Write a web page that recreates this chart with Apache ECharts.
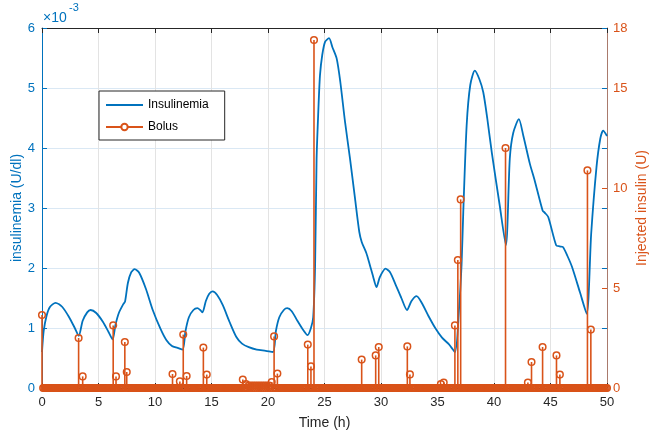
<!DOCTYPE html>
<html><head><meta charset="utf-8">
<script src="https://cdn.jsdelivr.net/npm/echarts@6/dist/echarts.min.js"></script>
<style>html,body{margin:0;padding:0;background:#fff}#c{width:652px;height:436px}</style>
</head><body><div id="c"></div>
<script>
// Insulinemia curve (values in units of 1e-3 U/dl)
const insulinTimes = [0.0,0.15,0.4,0.7,1.2,1.8,2.4,2.9,3.25,3.6,4.0,4.3,4.8,5.4,5.9,6.25,6.5,6.8,7.2,7.35,7.6,7.9,8.2,8.6,9.2,9.8,10.5,11.0,11.5,12.0,12.45,12.7,13.0,13.4,13.75,14.0,14.2,14.5,14.8,15.1,15.5,16.0,16.6,17.2,17.7,18.3,19.0,19.8,20.45,20.7,21.0,21.4,21.7,22.1,22.6,23.1,23.5,23.8,24.0,24.17,24.3,24.45,24.6,24.8,25.05,25.4,25.7,26.08,26.4,26.82,27.26,27.7,28.08,28.3,28.7,29.0,29.3,29.6,29.9,30.4,30.8,31.3,31.8,32.3,32.7,33.15,33.6,34.2,34.8,35.4,36.0,36.55,36.9,37.13,37.28,37.58,37.9,38.3,38.7,39.05,39.4,39.8,40.5,41.05,41.4,41.7,42.2,42.6,43.17,43.6,44.3,44.5,44.8,45.5,45.8,46.1,46.5,46.9,47.6,48.2,48.6,49.07,49.4,49.66,50.0];
const insulinValues = [0.60,0.95,1.2,1.35,1.42,1.35,1.18,1.0,0.87,1.12,1.26,1.30,1.25,1.1,0.93,0.81,1.05,1.25,1.40,1.44,1.75,1.93,1.98,1.92,1.65,1.30,0.98,0.80,0.70,0.67,0.64,0.95,1.18,1.30,1.33,1.30,1.26,1.45,1.57,1.61,1.55,1.38,1.10,0.85,0.74,0.68,0.64,0.62,0.60,0.95,1.18,1.30,1.33,1.28,1.12,0.97,0.88,1.0,1.18,2.06,3.82,4.6,5.21,5.55,5.77,5.83,5.68,5.49,5.1,4.43,3.82,3.16,2.6,2.43,2.25,2.06,1.86,1.68,1.85,1.99,1.93,1.72,1.5,1.30,1.45,1.53,1.42,1.2,1.0,0.84,0.73,0.60,1.3,2.06,2.93,4.38,5.05,5.29,5.15,4.93,4.5,3.93,3.05,2.38,3.83,4.25,4.48,4.2,3.74,3.46,2.96,2.92,2.85,2.38,2.36,2.35,2.2,2.02,1.6,1.24,2.57,3.68,4.15,4.29,4.2];

// Bolus (injected insulin, U)
const bolusTimes = [0.0,3.24,3.6,6.3,6.55,7.33,7.5,11.55,12.2,12.5,12.8,14.28,14.58,17.77,18.05,20.33,20.54,20.83,23.52,23.8,24.07,28.29,29.53,29.8,32.33,32.56,35.3,35.55,36.54,36.8,37.05,41.02,43.0,43.32,44.3,45.53,45.83,48.27,48.57];
const bolusUnits = [3.65,2.5,0.58,3.13,0.58,2.3,0.8,0.7,0.33,2.67,0.6,2.02,0.67,0.42,0.2,0.3,2.58,0.72,2.17,1.08,17.4,1.42,1.63,2.05,2.08,0.68,0.2,0.27,3.13,6.4,9.43,12.0,0.27,1.3,2.05,1.63,0.67,10.88,2.92];
// small raised samples between ~18 h and ~20 h
const basalTimes = [18.3,18.5,18.7,18.9,19.1,19.3,19.5,19.7,19.9,20.1];
const basalUnits = [0.12,0.12,0.12,0.12,0.12,0.12,0.12,0.12,0.12,0.12];
// sampling period of the (otherwise zero) stem series, h
const sampleStepH = 0.1;
const tEnd = 50;

const BLUE = '#0072BD', ORANGE = '#D95319', DARK = '#262626';
const FONT = '"Liberation Sans", Arial, Helvetica, sans-serif';

const insulinData = insulinTimes.map((t, i) => [t, insulinValues[i]]);
const nonZero = bolusTimes.map((t, i) => [t, bolusUnits[i]]).concat(basalTimes.map((t, i) => [t, basalUnits[i]]));
const stemData = [];
for (let i = 0; i * sampleStepH <= tEnd + 1e-9; i++) {
  const t = +(i * sampleStepH).toFixed(3);
  if (!nonZero.some(p => Math.abs(p[0] - t) < 0.04)) stemData.push([t, 0]);
}
nonZero.forEach(p => stemData.push(p));

const chart = echarts.init(document.getElementById('c'));
chart.setOption({
  animation: false,
  backgroundColor: '#fff',
  textStyle: { fontFamily: FONT },
  grid: { left: 42, right: 45, top: 28, bottom: 48, containLabel: false, outerBoundsMode: 'none' },
  legend: {
    data: [{ name: 'Insulinemia', itemStyle: { opacity: 0 } }, { name: 'Bolus' }],
    orient: 'vertical', left: 99, top: 91,
    itemWidth: 37, itemHeight: 8, itemGap: 10,
    padding: [8, 16, 7, 6],
    borderColor: DARK, borderWidth: 1, backgroundColor: '#fff',
    textStyle: { fontSize: 12, color: '#000', fontFamily: FONT }
  },
  xAxis: [{
    type: 'value', min: 0, max: 50, interval: 5, position: 'bottom',
    axisLine: { show: true, onZero: false, lineStyle: { color: DARK, width: 1 } },
    axisTick: { show: true, inside: true, length: 5, lineStyle: { color: DARK } },
    axisLabel: { color: DARK, fontSize: 13, margin: 8, fontFamily: FONT },
    splitLine: { show: true, lineStyle: { color: '#e3e3e3', width: 1 } },
    name: 'Time (h)', nameLocation: 'middle', nameGap: 28, nameMoveOverlap: false,
    nameTextStyle: { color: DARK, fontSize: 14, fontFamily: FONT }
  }, {
    type: 'value', min: 0, max: 50, interval: 5, position: 'top',
    axisLine: { show: true, onZero: false, lineStyle: { color: DARK, width: 1 } },
    axisTick: { show: true, inside: true, length: 5, lineStyle: { color: DARK } },
    axisLabel: { show: false }, splitLine: { show: false }
  }],
  yAxis: [{
    type: 'value', min: 0, max: 6, interval: 1, position: 'left',
    axisLine: { show: true, onZero: false, lineStyle: { color: BLUE, width: 1 } },
    axisTick: { show: true, inside: true, length: 5, lineStyle: { color: BLUE } },
    axisLabel: { color: BLUE, fontSize: 13, margin: 7, fontFamily: FONT },
    splitLine: { show: true, lineStyle: { color: '#dae8f4', width: 1 } },
    name: 'insulinemia (U/dl)', nameLocation: 'middle', nameGap: 18, nameRotate: 90, nameMoveOverlap: false,
    nameTextStyle: { color: BLUE, fontSize: 14, fontFamily: FONT }
  }, {
    type: 'value', min: 0, max: 18, interval: 5, position: 'right',
    axisLine: { show: true, onZero: false, lineStyle: { color: '#a97a6c', width: 1 } },
    axisTick: { show: true, inside: true, length: 5, lineStyle: { color: ORANGE } },
    axisLabel: { color: ORANGE, fontSize: 13, margin: 6, fontFamily: FONT, showMaxLabel: true },
    splitLine: { show: false },
    name: 'Injected insulin (U)', nameLocation: 'middle', nameGap: 28, nameRotate: 90, nameMoveOverlap: false,
    nameTextStyle: { color: ORANGE, fontSize: 14, fontFamily: FONT }
  }, {
    type: 'value', min: 0, max: 6, interval: 1, position: 'right',
    axisLine: { show: false, onZero: false },
    axisTick: { show: true, inside: true, length: 5, lineStyle: { color: BLUE } },
    axisLabel: { show: false }, splitLine: { show: false }
  }],
  graphic: [
    { type: 'text', left: 43, top: 11, style: { text: '×10', fill: BLUE, font: '14px ' + FONT } },
    { type: 'text', left: 69, top: 2, style: { text: '-3', fill: BLUE, font: '11px ' + FONT } }
  ],
  series: [{
    name: 'Insulinemia', type: 'line', xAxisIndex: 0, yAxisIndex: 0,
    data: insulinData, smooth: 0.25, symbol: 'none',
    lineStyle: { color: BLUE, width: 1.8 }, itemStyle: { color: BLUE }, z: 2
  }, {
    name: 'Bolus', type: 'line', xAxisIndex: 0, yAxisIndex: 1, data: [],
    symbol: 'emptyCircle', symbolSize: 7,
    lineStyle: { color: ORANGE, width: 1.6 },
    itemStyle: { color: ORANGE, borderColor: ORANGE, borderWidth: 1.5 }
  }, {
    name: 'BolusStems', type: 'custom', xAxisIndex: 0, yAxisIndex: 1,
    data: stemData, encode: { x: 0, y: 1 }, z: 3,
    renderItem: function (params, api) {
      const t = api.value(0), u = api.value(1);
      const top = api.coord([t, u]);
      const base = api.coord([t, 0]);
      const children = [];
      if (u > 0) {
        children.push({ type: 'line', shape: { x1: base[0], y1: base[1], x2: top[0], y2: top[1] },
          style: { stroke: ORANGE, lineWidth: 1.6 } });
      }
      children.push({ type: 'circle', shape: { cx: top[0], cy: top[1], r: 3.3 },
        style: { fill: 'rgba(0,0,0,0)', stroke: ORANGE, lineWidth: 1.5 } });
      return { type: 'group', children: children };
    }
  }]
});
</script></body></html>
